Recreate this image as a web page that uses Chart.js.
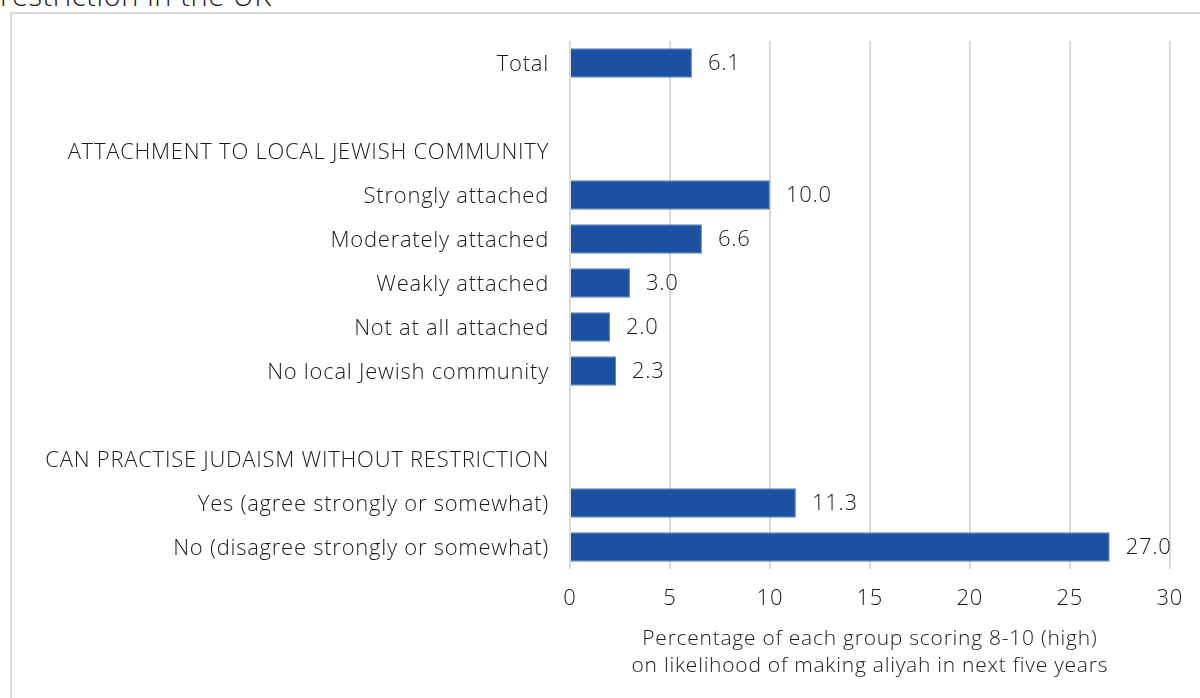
<!DOCTYPE html>
<html>
<head>
<meta charset="utf-8">
<script src="https://cdn.jsdelivr.net/npm/chart.js@4.4.1/dist/chart.umd.min.js"></script>
<style>
  html, body { margin: 0; padding: 0; background: #fff; overflow: hidden; }
  body { width: 1200px; height: 698px; position: relative; font-family: "Open Sans", sans-serif; }
  #title { position: absolute; left: 0; top: -25px; font-size: 29px; font-weight: 300; letter-spacing: 0.6px; color: #1a1a1a; white-space: nowrap; }
  #frame { position: absolute; left: 10px; top: 12px; width: 1400px; height: 900px; border: 2px solid #d9d9d9; box-sizing: border-box; }
  #wrap { position: absolute; left: 0; top: 0; width: 1200px; height: 698px; }
</style>
</head>
<body>
<div id="title">restriction in the UK</div>
<div id="frame"></div>
<div id="wrap"><canvas id="chart"></canvas></div>
<script>
const categories = [
  "Total",
  "",
  "ATTACHMENT TO LOCAL JEWISH COMMUNITY",
  "Strongly attached",
  "Moderately attached",
  "Weakly attached",
  "Not at all attached",
  "No local Jewish community",
  " ",
  "CAN PRACTISE JUDAISM WITHOUT RESTRICTION",
  "Yes (agree strongly or somewhat)",
  "No (disagree strongly or somewhat)"
];
const values = [6.1, null, null, 10.0, 6.6, 3.0, 2.0, 2.3, null, null, 11.3, 27.0];
const xTicks = [0, 5, 10, 15, 20, 25, 30];
const xTitle = ["Percentage of each group scoring 8-10 (high)", "on likelihood of making aliyah in next five years"];

const textColor = "#1a1a1a";
const fontFamily = "'Open Sans', sans-serif";
const spacing = "0.75px";

// wider letters, closer to the original font
const letterSpacing = {
  id: "letterSpacing",
  beforeLayout(chart) { chart.ctx.letterSpacing = spacing; },
  beforeDraw(chart) { chart.ctx.letterSpacing = spacing; }
};

// value labels to the right of each bar
const valueLabels = {
  id: "valueLabels",
  afterDatasetsDraw(chart) {
    const ctx = chart.ctx;
    const meta = chart.getDatasetMeta(0);
    ctx.save();
    ctx.font = "300 22px " + fontFamily;
    ctx.fillStyle = textColor;
    ctx.textAlign = "left";
    ctx.textBaseline = "middle";
    meta.data.forEach((bar, i) => {
      const v = values[i];
      if (v === null) return;
      ctx.fillText(v.toFixed(1), bar.x + 16, bar.y + 1);
    });
    ctx.restore();
  }
};

new Chart(document.getElementById("chart"), {
  type: "bar",
  data: {
    labels: categories,
    datasets: [{
      data: values,
      backgroundColor: "#1c51a1",
      borderColor: "#5d82c2",
      borderWidth: 1,
      barPercentage: 0.67,
      categoryPercentage: 1
    }]
  },
  options: {
    indexAxis: "y",
    responsive: true,
    maintainAspectRatio: false,
    animation: false,
    layout: { padding: { top: 41, right: 30, bottom: 18, left: 10 } },
    plugins: {
      legend: { display: false },
      tooltip: { enabled: false }
    },
    scales: {
      x: {
        min: 0,
        max: 30,
        afterBuildTicks: (scale) => { scale.ticks = xTicks.map(v => ({ value: v })); },
        afterFit: (scale) => { scale.height = 111; },
        grid: { color: "#d9d9d9", lineWidth: 2, drawTicks: false },
        border: { display: false },
        ticks: { color: textColor, font: { family: fontFamily, size: 22, weight: 300 }, padding: 17 },
        title: {
          display: true,
          text: xTitle,
          color: textColor,
          font: { family: fontFamily, size: 21, weight: 300, lineHeight: 1.28 },
          padding: { top: 10, bottom: 1 }
        }
      },
      y: {
        grid: { display: false, drawTicks: false },
        border: { display: false },
        afterFit: (scale) => { scale.width = 560; },
        ticks: { color: textColor, font: { family: fontFamily, size: 22, weight: 300 }, padding: 21, labelOffset: 2, autoSkip: false }
      }
    }
  },
  plugins: [letterSpacing, valueLabels]
});
</script>
</body>
</html>
